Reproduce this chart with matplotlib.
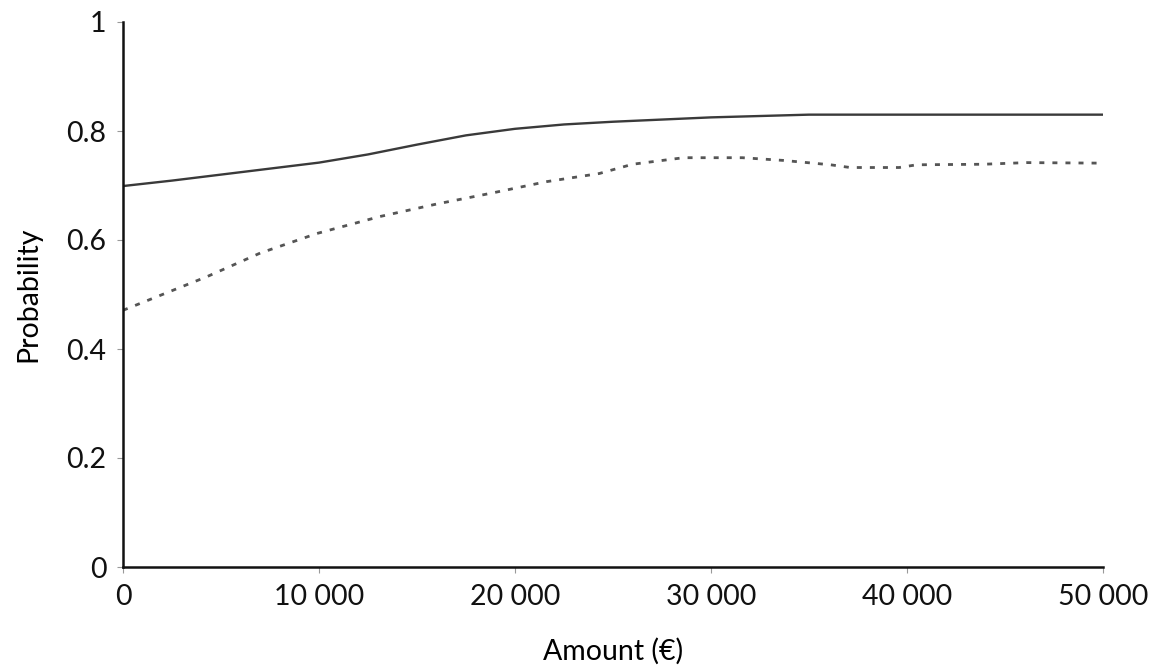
import numpy as np
import matplotlib
matplotlib.use("Agg")
import matplotlib.pyplot as plt
from matplotlib.ticker import FuncFormatter

plt.rcParams['font.family'] = ['Lato', 'DejaVu Sans']

# valeurs
amount_solid = [0, 2500, 5000, 7500, 10000, 12500, 15000, 17500, 20000, 22500,
                25000, 30000, 35000, 40000, 45000, 50000]
prob_solid = [0.699, 0.709, 0.720, 0.731, 0.742, 0.757, 0.775, 0.792, 0.804,
              0.812, 0.817, 0.825, 0.830, 0.830, 0.830, 0.830]

amount_dotted = [0, 4300, 7000, 9900, 13100, 16000, 18800, 21600, 24300,
                 26000, 28600, 31600, 33700, 36100, 37100, 39600, 40500,
                 43900, 46100, 50000]
prob_dotted = [0.471, 0.533, 0.576, 0.612, 0.643, 0.666, 0.686, 0.707, 0.722,
               0.739, 0.751, 0.751, 0.746, 0.738, 0.733, 0.733, 0.738,
               0.739, 0.742, 0.741]

x_ticks = [0, 10000, 20000, 30000, 40000, 50000]
y_ticks = [0, 0.2, 0.4, 0.6, 0.8, 1]
y_labels = ['0', '0.2', '0.4', '0.6', '0.8', '1']

fig = plt.figure(figsize=(11.58, 6.67), dpi=100)
ax = fig.add_axes([123 / 1158, 100 / 667, 980 / 1158, 545 / 667])

ax.plot(amount_solid, prob_solid, color='#3a3a3a', lw=1.7, solid_capstyle='butt')
ax.plot(amount_dotted, prob_dotted, color='#555555', lw=2.0,
        linestyle=(0, (1.8, 2.9)), dash_capstyle='butt')

ax.set_xlim(0, 50000)
ax.set_ylim(0, 1)
ax.set_xticks(x_ticks)
ax.xaxis.set_major_formatter(FuncFormatter(lambda v, p: f"{int(v):,}".replace(',', ' ')))
ax.set_yticks(y_ticks)
ax.set_yticklabels(y_labels)

# axes : seulement gauche et bas
ax.spines['top'].set_visible(False)
ax.spines['right'].set_visible(False)
for s in ['left', 'bottom']:
    ax.spines[s].set_linewidth(1.8)
    ax.spines[s].set_color('#111111')

ax.tick_params(axis='both', direction='out', length=4, width=0.8,
               color='#999999', labelsize=20.5, labelcolor='#111111')
ax.tick_params(axis='x', pad=8)
ax.tick_params(axis='y', pad=8)

ax.set_xlabel('Amount (€)', fontsize=20.5, labelpad=20)
ax.set_ylabel('Probability', fontsize=20.5, labelpad=18)

fig.savefig('out.png', dpi=100)
